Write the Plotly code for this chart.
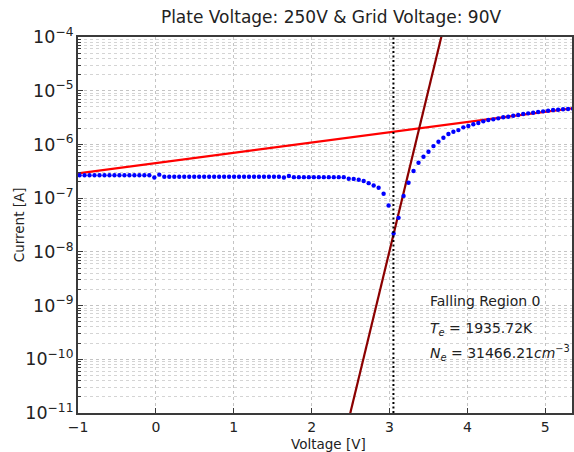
import plotly.graph_objects as go

# ---- data ----
voltage = [-0.98, -0.916, -0.852, -0.788, -0.724, -0.66, -0.596, -0.532, -0.468, -0.404,
           -0.34, -0.276, -0.212, -0.148, -0.084, -0.02, 0.044, 0.108, 0.172, 0.236,
           0.3, 0.364, 0.428, 0.492, 0.556, 0.62, 0.684, 0.748, 0.812, 0.876,
           0.94, 1.004, 1.068, 1.132, 1.196, 1.26, 1.324, 1.388, 1.452, 1.516,
           1.58, 1.644, 1.708, 1.772, 1.836, 1.9, 1.964, 2.028, 2.092, 2.156,
           2.22, 2.284, 2.348, 2.412, 2.476, 2.54, 2.604, 2.668, 2.732, 2.796,
           2.86, 2.924, 2.988, 3.052, 3.116, 3.18, 3.244, 3.308, 3.372, 3.436,
           3.5, 3.564, 3.628, 3.692, 3.756, 3.82, 3.884, 3.948, 4.012, 4.076,
           4.14, 4.204, 4.268, 4.332, 4.396, 4.46, 4.524, 4.588, 4.652, 4.716,
           4.78, 4.844, 4.908, 4.972, 5.036, 5.1, 5.164, 5.228, 5.292, 5.356]

current = [2.66e-7, 2.66e-7, 2.66e-7, 2.66e-7, 2.66e-7, 2.66e-7, 2.66e-7, 2.66e-7, 2.66e-7, 2.66e-7,
           2.66e-7, 2.66e-7, 2.66e-7, 2.66e-7, 2.66e-7, 2.42e-7, 2.74e-7, 2.50e-7, 2.50e-7, 2.50e-7,
           2.50e-7, 2.50e-7, 2.50e-7, 2.50e-7, 2.50e-7, 2.50e-7, 2.50e-7, 2.50e-7, 2.50e-7, 2.50e-7,
           2.50e-7, 2.50e-7, 2.50e-7, 2.50e-7, 2.50e-7, 2.50e-7, 2.50e-7, 2.50e-7, 2.50e-7, 2.50e-7,
           2.50e-7, 2.43e-7, 2.58e-7, 2.46e-7, 2.46e-7, 2.46e-7, 2.46e-7, 2.46e-7, 2.46e-7, 2.46e-7,
           2.46e-7, 2.46e-7, 2.46e-7, 2.46e-7, 2.30e-7, 2.28e-7, 2.20e-7, 2.08e-7, 1.90e-7, 1.72e-7,
           1.56e-7, 1.21e-7, 7.3e-8, 2.2e-8, 4.3e-8, 1.1e-7, 1.94e-7, 3.2e-7, 4.57e-7, 5.9e-7,
           7.3e-7, 9.3e-7, 1.12e-6, 1.33e-6, 1.56e-6, 1.72e-6, 1.85e-6, 2.08e-6, 2.20e-6, 2.37e-6,
           2.50e-6, 2.69e-6, 2.85e-6, 2.93e-6, 3.06e-6, 3.20e-6, 3.28e-6, 3.42e-6, 3.52e-6, 3.68e-6,
           3.79e-6, 3.89e-6, 4.01e-6, 4.13e-6, 4.24e-6, 4.37e-6, 4.43e-6, 4.51e-6, 4.56e-6, 4.60e-6]

# saturation-region fit line (red)
sat_fit_x = [-1.0, 5.45]
sat_fit_y = [2.90e-7, 4.94e-6]

# transition-region fit line (dark red)
trans_fit_x = [2.33, 3.83]
trans_fit_y = [1.01e-12, 9.8e-4]

# floating / cut voltage (vertical dotted line)
v_cut = 3.05

x_ticks = [-1, 0, 1, 2, 3, 4, 5]

title_text = "Plate Voltage: 250V & Grid Voltage: 90V"
info_lines = ["Falling Region 0",
              "<i>T</i><sub><i>e</i></sub> = 1935.72K",
              "<i>N</i><sub><i>e</i></sub> = 31466.21<i>cm</i><sup>−3</sup>"]

FONT = "DejaVu Sans"
W, H = 574, 452
L, R, T, B = 78, 0, 37, 39
PW = W - L - R
PH = H - T - B

fig = go.Figure()

fig.add_trace(go.Scatter(
    x=sat_fit_x, y=sat_fit_y, mode="lines",
    line=dict(color="#ff0000", width=2.2), showlegend=False, cliponaxis=True))

fig.add_trace(go.Scatter(
    x=trans_fit_x, y=trans_fit_y, mode="lines",
    line=dict(color="#8b0000", width=2.2), showlegend=False, cliponaxis=True))

fig.add_trace(go.Scatter(
    x=voltage, y=current, mode="markers",
    marker=dict(color="#0000ff", size=4.4, line=dict(width=0)),
    showlegend=False, cliponaxis=True))

fig.add_vline(x=v_cut, line=dict(color="black", width=2, dash="2px,2.5px"))

grid_major = "#c4c4c4"
grid_minor = "#d4d4d4"
axis_line = "#3a3a3a"

fig.update_xaxes(
    type="linear", range=[-1, -1 + PW / 78.2],
    tickmode="array", tickvals=x_ticks, ticktext=[str(v).replace("-", "−") for v in x_ticks],
    ticks="inside", ticklen=5, tickwidth=1.2, tickcolor=axis_line,
    showgrid=True, gridcolor=grid_major, griddash="dot", gridwidth=1,
    showline=True, linecolor=axis_line, linewidth=1.5, mirror=True,
    zeroline=False,
    tickfont=dict(family=FONT, size=14, color="#222"),
)

fig.update_yaxes(
    type="log", range=[-11, -4], dtick=1, exponentformat="power",
    ticks="inside", ticklen=5, tickwidth=1.2, tickcolor=axis_line,
    showgrid=True, gridcolor=grid_major, griddash="dot", gridwidth=1,
    minor=dict(dtick="D1", ticks="inside", ticklen=3, tickcolor=axis_line,
               showgrid=True, gridcolor=grid_minor, griddash="dot", gridwidth=1),
    showline=True, linecolor=axis_line, linewidth=1.5, mirror=True,
    zeroline=False,
    tickfont=dict(family=FONT, size=14, color="#222"),
)

annotations = []
# axis titles
annotations.append(dict(text="Voltage [V]", xref="paper", yref="paper",
                        x=(330 - L) / PW, y=(H - B - 444) / PH,
                        xanchor="center", yanchor="middle", showarrow=False,
                        font=dict(family=FONT, size=13.5, color="#222")))
annotations.append(dict(text="Current [A]", xref="paper", yref="paper",
                        x=(19 - L) / PW, y=0.5, textangle=-90,
                        xanchor="center", yanchor="middle", showarrow=False,
                        font=dict(family=FONT, size=13.5, color="#222")))
# info text
info_y = [301, 329, 353]
for txt, py in zip(info_lines, info_y):
    annotations.append(dict(text=txt, xref="paper", yref="paper",
                            x=(429 - L) / PW, y=(H - B - py) / PH,
                            xanchor="left", yanchor="middle", showarrow=False,
                            font=dict(family=FONT, size=14, color="#222")))

fig.update_layout(
    width=W, height=H,
    margin=dict(l=L, r=R, t=T, b=B, pad=0),
    paper_bgcolor="white", plot_bgcolor="white",
    title=dict(text=title_text, xref="container", yref="container",
               x=331 / W, y=1 - 17 / H, xanchor="center", yanchor="middle",
               font=dict(family=FONT, size=17, color="#222")),
    annotations=annotations,
    showlegend=False,
)

fig.write_html("out.html")
